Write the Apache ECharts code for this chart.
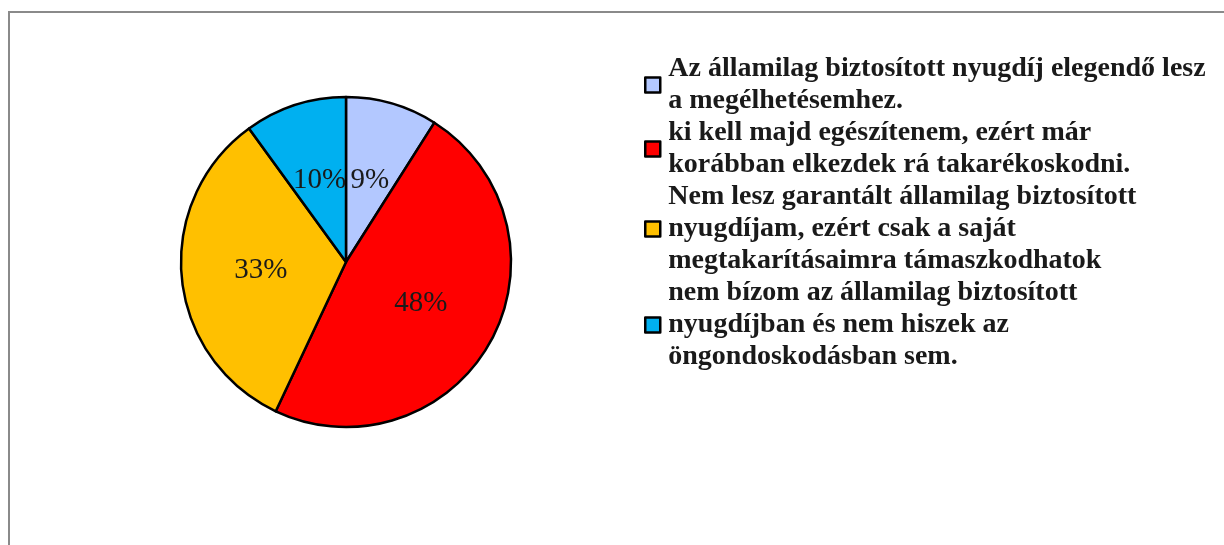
<!DOCTYPE html>
<html>
<head>
<meta charset="utf-8">
<script src="https://cdn.jsdelivr.net/npm/echarts@6/dist/echarts.min.js"></script>
<style>
  html, body { margin: 0; padding: 0; background: #fff; }
  #chart { width: 1224px; height: 545px; }
</style>
</head>
<body>
<div id="chart"></div>
<script>
// válaszkategóriák (a jelmagyarázat sortörései szerint)
const categories = [
  'Az államilag biztosított nyugdíj elegendő lesz\na megélhetésemhez.',
  'ki kell majd egészítenem, ezért már\nkorábban elkezdek rá takarékoskodni.',
  'Nem lesz garantált államilag biztosított\nnyugdíjam, ezért csak a saját\nmegtakarításaimra támaszkodhatok',
  'nem bízom az államilag biztosított\nnyugdíjban és nem hiszek az\nöngondoskodásban sem.'
]
const values = [9, 48, 33, 10]
const colors = ['#b3c8ff', '#ff0000', '#ffc000', '#00b0f0']

const font = 'Liberation Serif'

const chart = echarts.init(document.getElementById('chart'))

const option = {
  animation: false,
  color: colors,
  graphic: [
    {
      // külső keret
      type: 'rect',
      shape: { x: 9, y: 12, width: 1240, height: 560 },
      style: { fill: 'none', stroke: '#8a8a8a', lineWidth: 2 }
    }
  ],
  legend: {
    orient: 'vertical',
    left: 639,
    top: 48,
    itemWidth: 15,
    itemHeight: 15,
    itemGap: 0,
    icon: 'rect',
    itemStyle: { borderColor: '#000', borderWidth: 2.5 },
    textStyle: {
      fontFamily: font,
      fontWeight: 'bold',
      fontSize: 28,
      lineHeight: 32,
      color: '#1a1a1a',
      padding: [0, 0, 0, 3]
    },
    data: categories
  },
  series: [
    {
      type: 'pie',
      center: [346, 262],
      radius: 165,
      startAngle: 90,
      clockwise: true,
      itemStyle: { borderColor: '#000', borderWidth: 2.5 },
      label: {
        position: 'inside',
        formatter: '{d}%',
        fontFamily: font,
        fontSize: 29,
        color: '#1a1a1a'
      },
      labelLine: { show: false },
      emphasis: { disabled: true },
      data: categories.map((name, i) => ({ name: name, value: values[i] }))
    }
  ]
}

chart.setOption(option)
</script>
</body>
</html>
